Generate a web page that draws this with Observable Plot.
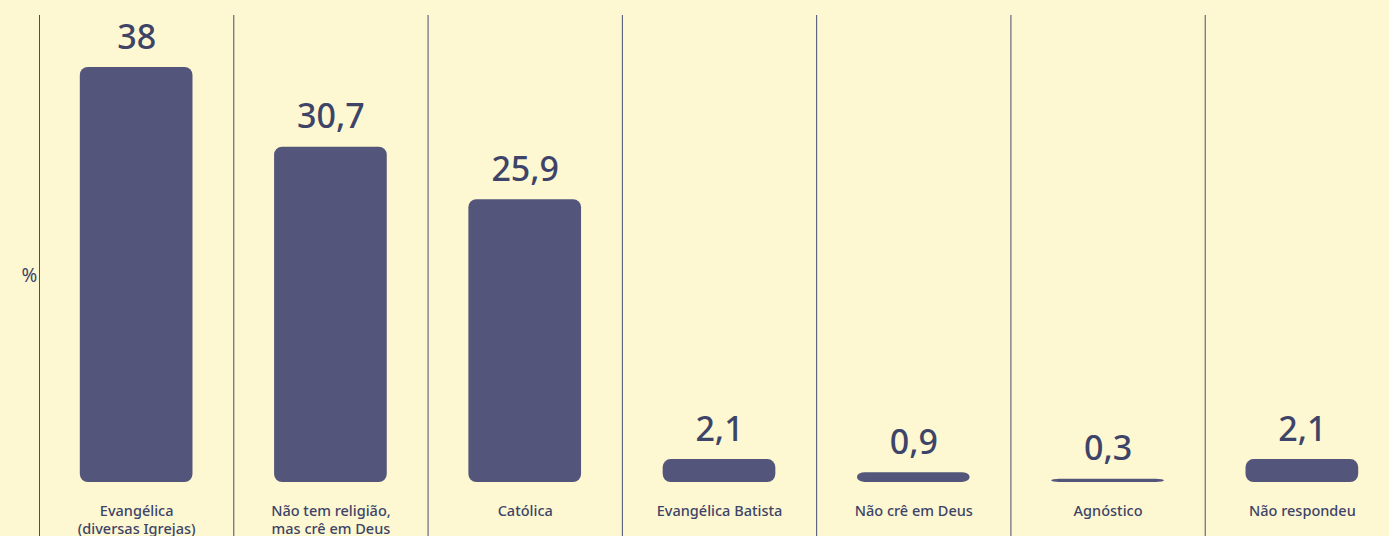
<!DOCTYPE html>
<html>
<head>
<meta charset="utf-8">
<script src="https://cdn.jsdelivr.net/npm/d3@7"></script>
<script src="https://cdn.jsdelivr.net/npm/@observablehq/plot@0.6"></script>
<style>
  html, body { margin: 0; padding: 0; background: #fdf8d2; }
  #chart svg { display: block; }
</style>
</head>
<body>
<div id="chart"></div>
<script>
const categories = [
  "Evangélica\n(diversas Igrejas)",
  "Não tem religião,\nmas crê em Deus",
  "Católica",
  "Evangélica Batista",
  "Não crê em Deus",
  "Agnóstico",
  "Não respondeu"
];
const values = [38, 30.7, 25.9, 2.1, 0.9, 0.3, 2.1];
const valueLabels = ["38", "30,7", "25,9", "2,1", "0,9", "0,3", "2,1"];

const data = categories.map((c, i) => ({category: c, value: values[i], label: valueLabels[i]}));

const W = 1389, H = 536;
const xRange = [39, 1399];
const step = (xRange[1] - xRange[0]) / categories.length;
const ink = "#3d4468";
const font = "'Noto Sans', 'Open Sans', sans-serif";

const chart = Plot.plot({
  width: W,
  height: H,
  marginTop: 15,
  marginBottom: 0,
  marginLeft: 0,
  marginRight: 0,
  style: {background: "#fdf8d2", fontFamily: font, color: ink},
  x: {domain: categories, range: xRange, paddingInner: 0.42, paddingOuter: 0.21, round: false, axis: null},
  y: {domain: [0, 38], range: [482, 67], axis: null},
  marks: [
    Plot.ruleX(categories, {x: d => d, dx: -step / 2, stroke: "#454d75", strokeWidth: 1}),
    Plot.barY(data, {x: "category", y: "value", fill: "#53567a", rx: 8}),
    Plot.text(data, {
      x: "category", y: "value", text: "label",
      lineAnchor: "bottom", dy: -19,
      fontSize: 34, fill: ink, fontWeight: 500
    }),
    Plot.text(data, {
      x: "category", y: 0, text: "category",
      lineAnchor: "top", dy: 20.5, lineHeight: 1.25,
      fontSize: 14.5, fill: ink, fontWeight: 500
    }),
    Plot.text(["%"], {frameAnchor: "left", dx: 21, text: d => d, fontSize: 19, fill: ink})
  ]
});
document.getElementById("chart").append(chart);
</script>
</body>
</html>
